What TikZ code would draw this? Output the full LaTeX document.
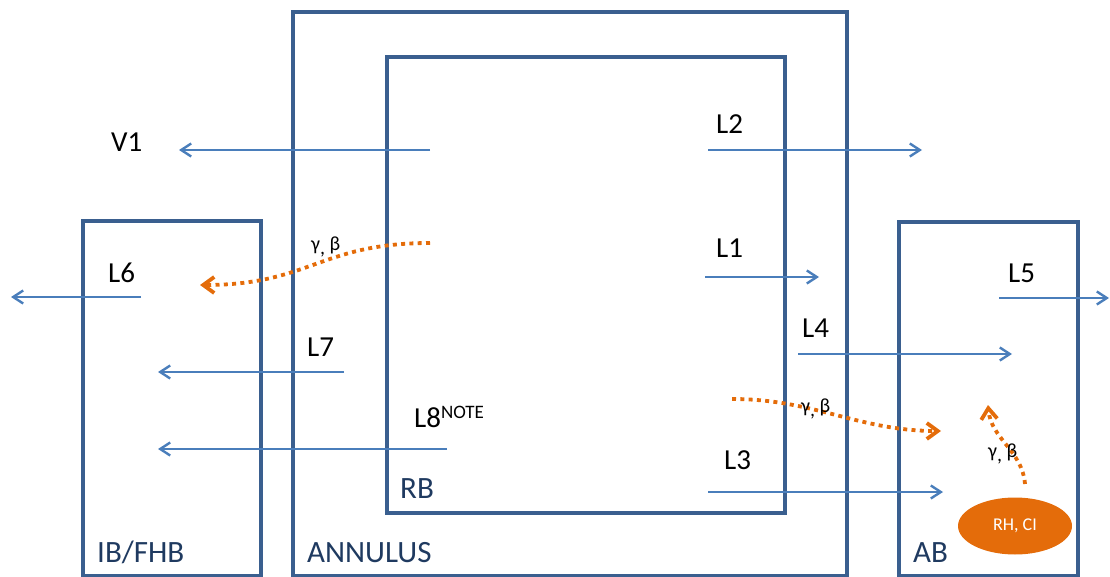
\documentclass[tikz,border=0pt]{standalone}
\usepackage{fontspec}
\setmainfont{Carlito}
\usetikzlibrary{arrows.meta, positioning, shapes.geometric}
\definecolor{boxblue}{HTML}{3A5F8F}
\definecolor{flowblue}{HTML}{4A7EBB}
\definecolor{navytext}{HTML}{1F3A60}
\definecolor{rayorange}{HTML}{E46C0A}

\begin{document}
\begin{tikzpicture}[x=1pt, y=-1pt,
    box/.style={rectangle, draw=boxblue, line width=3.5pt, inner sep=0pt},
    flow/.style={-{Straight Barb[length=10pt, width=13pt]}, line width=2.4pt, color=flowblue},
    ray/.style={-{Straight Barb[length=11pt, width=16pt]}, line width=3.8pt, color=rayorange,
                dash pattern=on 4pt off 4.3pt},
    lbl/.style={anchor=base west, inner sep=0pt, font=\fontsize{29}{32}\selectfont},
    boxlbl/.style={anchor=base west, inner sep=0pt, text=navytext, font=\fontsize{31}{34}\selectfont},
    rad/.style={anchor=base west, inner sep=0pt, font=\fontsize{20}{22}\selectfont},
    src/.style={ellipse, fill=rayorange, draw=none, minimum width=114pt, minimum height=57pt,
                text=white, font=\fontsize{18}{20}\selectfont}
  ]
    \useasboundingbox (0,0) rectangle (1110,577);

    \node[box, minimum width=554pt, minimum height=564pt] (ann) at (570,294) {};
    \node[box, minimum width=398pt, minimum height=456pt] (rb)  at (586,285) {};
    \node[box, minimum width=178pt, minimum height=355pt] (ib)  at (172,398.5) {};
    \node[box, minimum width=179pt, minimum height=354pt] (ab)  at (988.5,399) {};

    \node[boxlbl] (iblbl)  at (97,562)  {IB/FHB};
    \node[boxlbl] (annlbl) at (307,562) {ANNULUS};
    \node[boxlbl] (rblbl)  at (400,498) {RB};
    \node[boxlbl] (ablbl)  at (913,562) {AB};

    \node[src] (rhci) at (1015,526) {RH, CI};

    \node[lbl] (v1) at (111,152) {V1};
    \node[lbl] (l2) at (716,134) {L2};
    \node[lbl] (l1) at (716,258) {L1};
    \node[lbl] (l6) at (108,282) {L6};
    \node[lbl] (l5) at (1008,282) {L5};
    \node[lbl] (l4) at (802,337) {L4};
    \node[lbl] (l7) at (307,356) {L7};
    \node[lbl] (l8) at (414,427) {L8\raisebox{9pt}{\fontsize{19}{20}\selectfont NOTE}};
    \node[lbl] (l3) at (724,469) {L3};

    \coordinate (v1s) at (430,150); \coordinate (v1e) at (179,150);
    \coordinate (l2s) at (708,150); \coordinate (l2e) at (922,150);
    \coordinate (l1s) at (705,277); \coordinate (l1e) at (819,277);
    \coordinate (l6s) at (141,297); \coordinate (l6e) at (11,297);
    \coordinate (l5s) at (999,298); \coordinate (l5e) at (1109,298);
    \coordinate (l4s) at (798,354); \coordinate (l4e) at (1012,354);
    \coordinate (l7s) at (344,372); \coordinate (l7e) at (158,372);
    \coordinate (l8s) at (447,449); \coordinate (l8e) at (158,449);
    \coordinate (l3s) at (708,492); \coordinate (l3e) at (943,492);

    \draw[flow] (v1s) -- (v1e);
    \draw[flow] (l2s) -- (l2e);
    \draw[flow] (l1s) -- (l1e);
    \draw[flow] (l6s) -- (l6e);
    \draw[flow] (l5s) -- (l5e);
    \draw[flow] (l4s) -- (l4e);
    \draw[flow] (l7s) -- (l7e);
    \draw[flow] (l8s) -- (l8e);
    \draw[flow] (l3s) -- (l3e);

    \coordinate (r1s) at (430,243); \coordinate (r1e) at (200,285);
    \coordinate (r2s) at (732,399); \coordinate (r2e) at (941,431);
    \coordinate (r3s) at (1025,484); \coordinate (r3e) at (988,405);

    \draw[ray] (r1s) to[out=180, in=0, looseness=1.2] (r1e);
    \draw[ray] (r2s) to[out=0, in=180] (r2e);
    \draw[ray] (r3s) to[out=95, in=-85] (r3e);

    \node[rad] (g1) at (311,251) {γ\raisebox{-4pt}{,} β};
    \node[rad] (g2) at (801,412) {γ\raisebox{-4pt}{,} β};
    \node[rad] (g3) at (988,457) {γ\raisebox{-4pt}{,} β};
  \end{tikzpicture}
\end{document}
